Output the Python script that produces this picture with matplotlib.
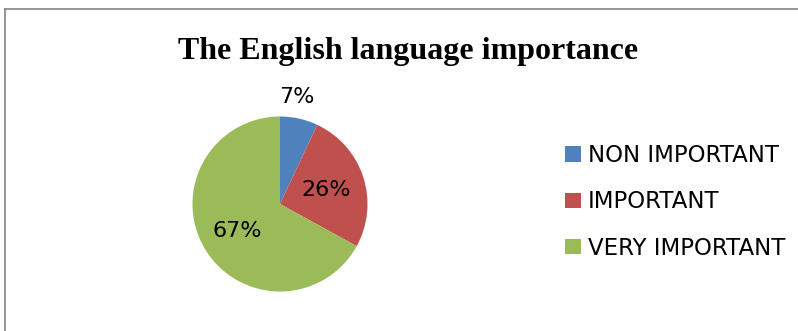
import matplotlib
matplotlib.use("Agg")
import matplotlib.pyplot as plt
from matplotlib.patches import Patch
from matplotlib.lines import Line2D

TITLE = "The English language importance"
CATEGORIES = ["NON IMPORTANT", "IMPORTANT", "VERY IMPORTANT"]
VALUES = [7, 26, 67]
COLORS = ["#4F81BD", "#C0504D", "#9BBB59"]
# where each percentage label sits, in pie radius units
LABEL_POS = [(0.19, 1.22), (0.53, 0.16), (-0.49, -0.31)]

W, H = 798, 331
fig = plt.figure(figsize=(W / 100, H / 100), dpi=100)

# chart frame (only top and left edges fall inside the image)
fig.add_artist(Line2D([5 / W, 1], [1 - 9 / H, 1 - 9 / H], color="#8c8c8c", lw=1.3))
fig.add_artist(Line2D([5 / W, 5 / W], [1 - 9 / H, 0], color="#8c8c8c", lw=1.3))

fig.text(408 / W, 1 - 51 / H, TITLE, ha="center", va="center",
         fontsize=23, fontweight="bold", family="Liberation Serif")

# pie centred at (280, 204) px with radius ~87.5 px
cx, cy, r = 280, 204, 87.5
ax = fig.add_axes([(cx - r) / W, (H - cy - r) / H, 2 * r / W, 2 * r / H])
ax.pie(VALUES, colors=COLORS, startangle=90, counterclock=False, radius=1,
       wedgeprops=dict(linewidth=0))
ax.set_xlim(-1, 1)
ax.set_ylim(-1, 1)
ax.set_aspect("equal")
ax.axis("off")

for v, (x, y) in zip(VALUES, LABEL_POS):
    ax.text(x, y, f"{v}%", ha="center", va="center", fontsize=16, clip_on=False)

handles = [Patch(facecolor=c, edgecolor="none") for c in COLORS]
fig.legend(handles, CATEGORIES, loc="center left",
           bbox_to_anchor=(565 / W, 1 - 202 / H), frameon=False,
           prop=dict(size=16.5), borderpad=0, borderaxespad=0,
           handlelength=0.7, handleheight=0.65, handletextpad=0.3,
           labelspacing=1.02)

fig.savefig("out.png", dpi=100)
